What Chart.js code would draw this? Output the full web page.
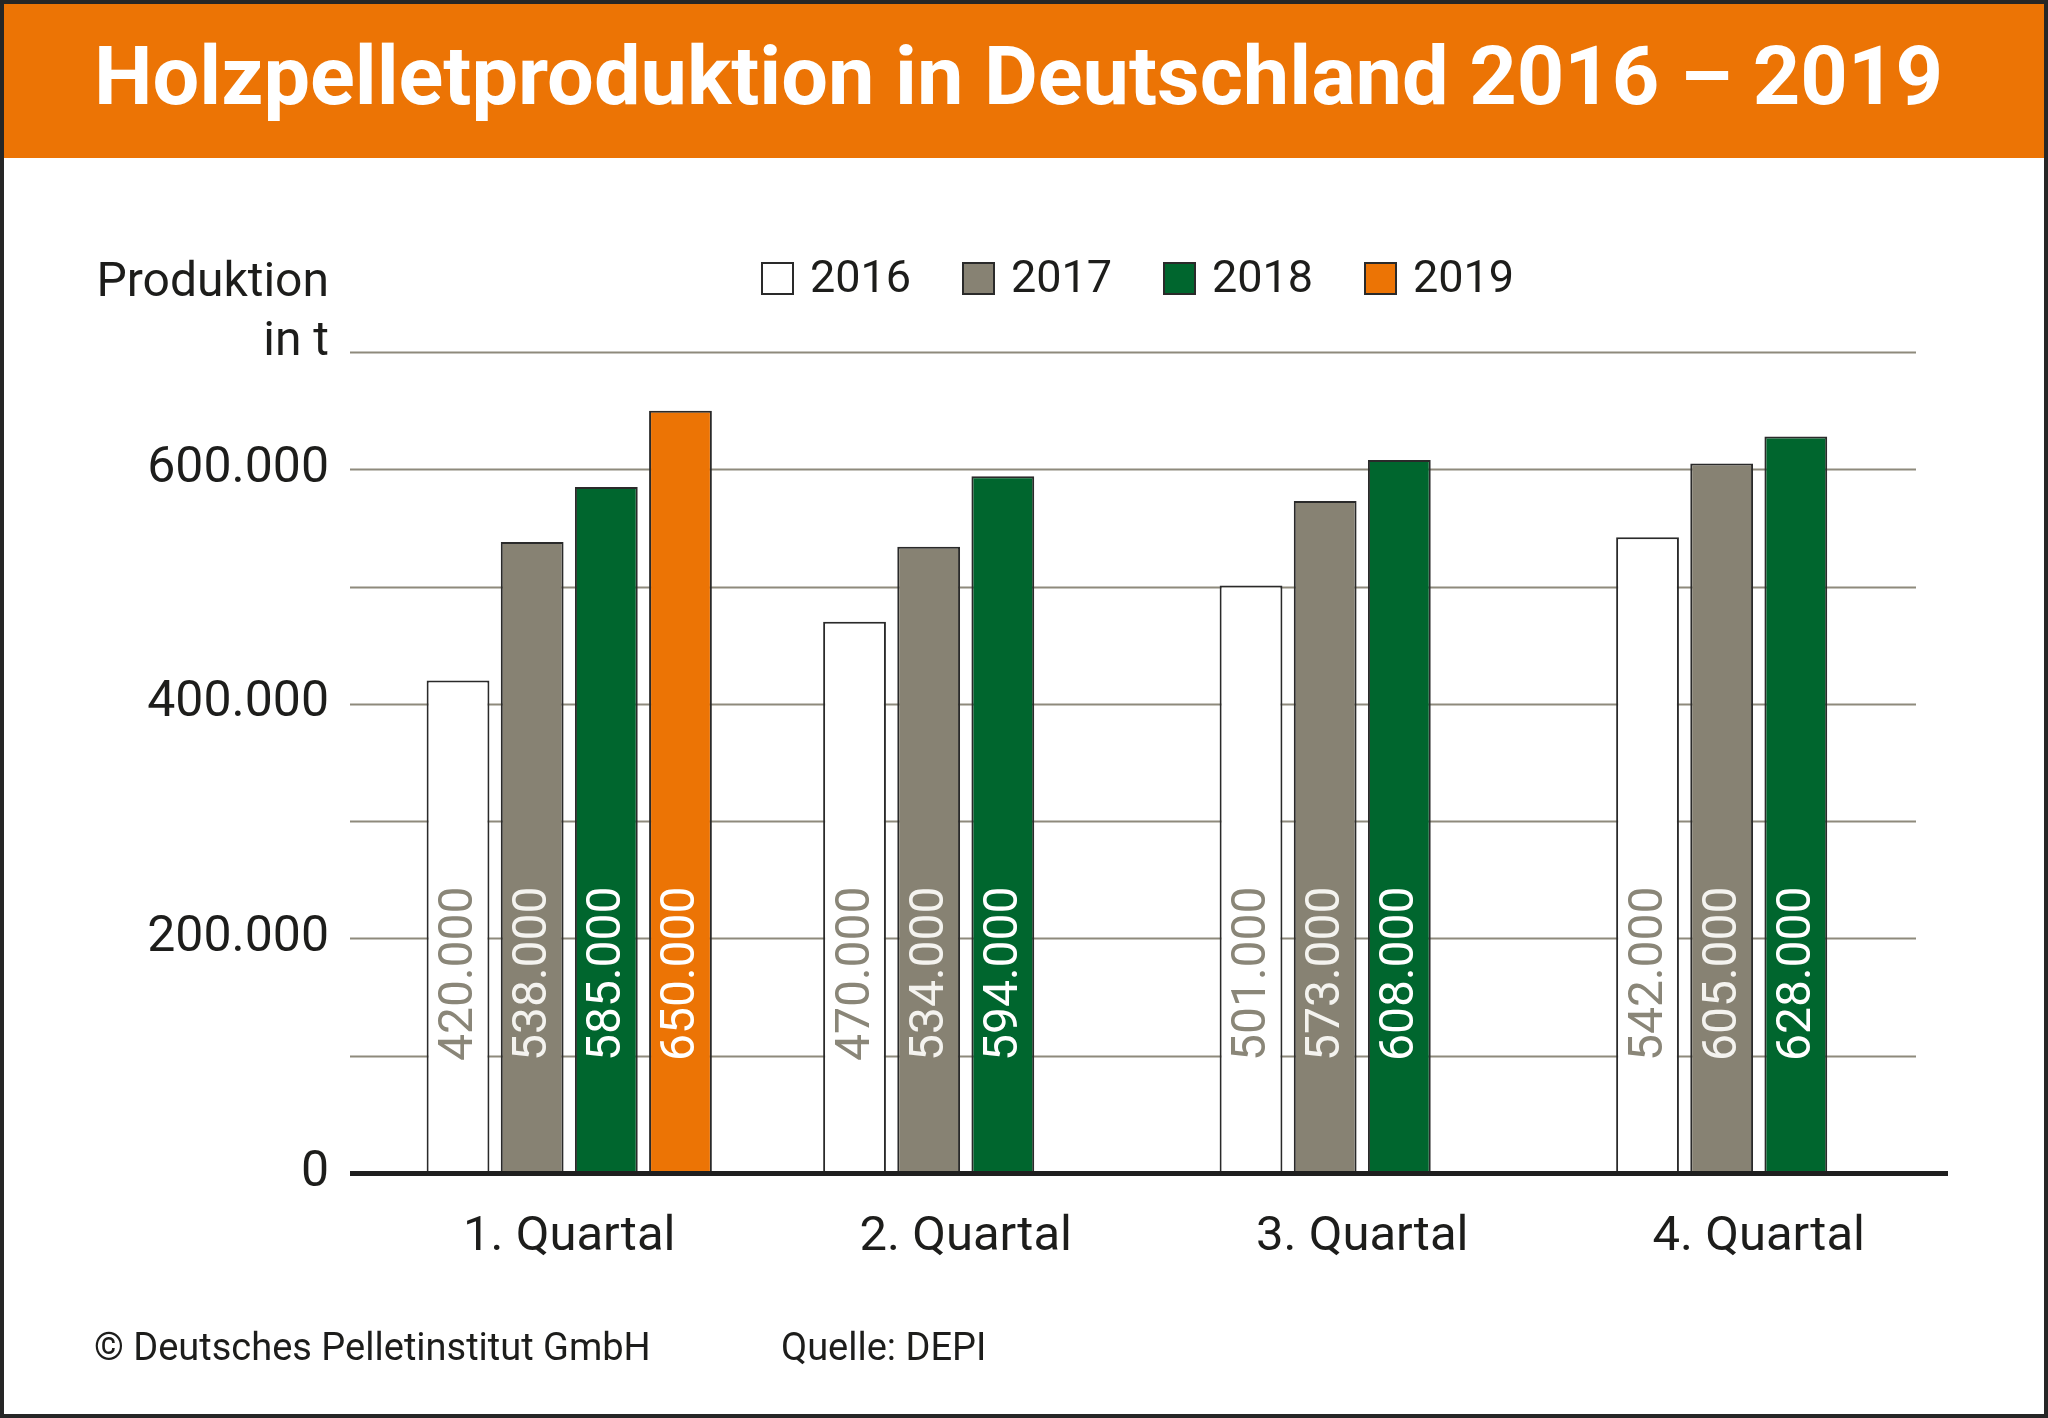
<!DOCTYPE html>
<html lang="de">
<head>
<meta charset="utf-8">
<title>Holzpelletproduktion in Deutschland 2016 – 2019</title>
<script src="https://cdn.jsdelivr.net/npm/chart.js@4.4.1/dist/chart.umd.min.js"></script>
<style>
  html, body { margin: 0; padding: 0; background: #fff; }
  #grafik { display: block; }
</style>
</head>
<body>
<canvas id="grafik" width="2048" height="1418"></canvas>
<script>
// Daten
const quartale = ['1. Quartal', '2. Quartal', '3. Quartal', '4. Quartal'];
const jahre = ['2016', '2017', '2018', '2019'];
const werte2016 = [420000, 470000, 501000, 542000];
const werte2017 = [538000, 534000, 573000, 605000];
const werte2018 = [585000, 594000, 608000, 628000];
const werte2019 = [650000, null, null, null];
const yBeschriftung = [0, 200000, 400000, 600000];

const titel = 'Holzpelletproduktion in Deutschland 2016 – 2019';
const achsenTitel = ['Produktion', 'in t'];
const copyright = '© Deutsches Pelletinstitut GmbH';
const quelle = 'Quelle: DEPI';

const farben = ['#ffffff', '#878273', '#00662e', '#ec7405'];
const textFarben = ['#8a8678', '#f4f3ef', '#ffffff', '#ffffff'];
const schrift = 'Roboto, "Open Sans", sans-serif';
const orange = '#ec7405';
const dunkel = '#1d1d1b';

function formatZahl(v) {
    return String(v).replace(/\B(?=(\d{3})+(?!\d))/g, '.');
}

// Hintergrund, Titelbalken, Achsentitel und Quelle
const rahmenPlugin = {
    id: 'rahmen',
    beforeDraw(chart) {
        const c = chart.ctx;
        c.save();
        c.fillStyle = '#ffffff';
        c.fillRect(0, 0, chart.width, chart.height);
        c.fillStyle = orange;
        c.fillRect(0, 0, chart.width, 158);

        // Titel etwas gestaucht, damit er die Breite trifft
        c.font = 'bold 82px ' + schrift;
        c.fillStyle = '#ffffff';
        c.textBaseline = 'alphabetic';
        const w = c.measureText(titel).width;
        c.translate(94, 104);
        c.scale(1849 / w, 1);
        c.fillText(titel, 0, 0);
        c.restore();

        c.save();
        c.fillStyle = dunkel;
        c.font = '48px ' + schrift;
        c.textAlign = 'right';
        c.fillText(achsenTitel[0], 329, 296);
        c.fillText(achsenTitel[1], 329, 355);
        c.textAlign = 'left';
        c.font = '38px ' + schrift;
        c.fillText(copyright, 94, 1360);
        c.fillText(quelle, 781, 1360);
        c.restore();
    },
    afterDraw(chart) {
        const c = chart.ctx;
        c.save();
        c.strokeStyle = '#262626';
        c.lineWidth = 4;
        c.strokeRect(2, 2, chart.width - 4, chart.height - 4);
        c.restore();
    }
};

// Gitterlinien (laufen links über die Achse hinaus)
const gitterPlugin = {
    id: 'gitter',
    beforeDatasetsDraw(chart) {
        const c = chart.ctx;
        const y = chart.scales.y;
        c.save();
        c.strokeStyle = '#8e8a7c';
        c.lineWidth = 2;
        for (let v = 100000; v <= 700000; v += 100000) {
            const py = Math.round(y.getPixelForValue(v)) + 0.5;
            c.beginPath();
            c.moveTo(350, py);
            c.lineTo(1916, py);
            c.stroke();
        }
        c.restore();
    }
};

// Nulllinie und senkrechte Werte in den Balken
const werteplugin = {
    id: 'werte',
    afterDatasetsDraw(chart) {
        const c = chart.ctx;
        const y0 = chart.scales.y.getPixelForValue(0);
        c.save();
        c.fillStyle = '#1f1f1f';
        c.fillRect(350, y0 - 2, 1598, 5);

        c.font = '48px ' + schrift;
        c.textAlign = 'left';
        c.textBaseline = 'middle';
        chart.data.datasets.forEach((ds, i) => {
            const meta = chart.getDatasetMeta(i);
            meta.data.forEach((bar, j) => {
                const wert = ds.data[j];
                if (wert === null) return;
                c.save();
                c.fillStyle = textFarben[i];
                c.translate(bar.x, y0 - 112);
                c.rotate(-Math.PI / 2);
                c.fillText(formatZahl(wert), 0, 2);
                c.restore();
            });
        });
        c.restore();
    }
};

// Legende oben
const legendePlugin = {
    id: 'legende',
    afterDraw(chart) {
        const c = chart.ctx;
        c.save();
        c.font = '45px ' + schrift;
        c.textBaseline = 'middle';
        c.textAlign = 'left';
        chart.data.datasets.forEach((ds, i) => {
            const x = 762 + i * 201;
            c.fillStyle = ds.backgroundColor;
            c.fillRect(x, 263, 31, 31);
            c.strokeStyle = '#2a2a2a';
            c.lineWidth = 2;
            c.strokeRect(x, 263, 31, 31);
            c.fillStyle = dunkel;
            c.fillText(ds.label, x + 48, 281);
        });
        c.restore();
    }
};

const reihen = [werte2016, werte2017, werte2018, werte2019];

new Chart(document.getElementById('grafik'), {
    type: 'bar',
    data: {
        labels: quartale,
        datasets: reihen.map((werte, i) => ({
            label: jahre[i],
            data: werte,
            backgroundColor: farben[i],
            borderColor: '#2a2a2a',
            borderWidth: 2,
            categoryPercentage: 0.748,
            barPercentage: 0.847
        }))
    },
    options: {
        responsive: false,
        animation: false,
        devicePixelRatio: 1,
        layout: { padding: { top: 352, left: 0, right: 91, bottom: 145 } },
        plugins: {
            legend: { display: false },
            tooltip: { enabled: false }
        },
        scales: {
            x: {
                grid: { display: false, drawTicks: false },
                border: { display: false },
                ticks: { color: dunkel, font: { family: schrift, size: 49 }, padding: 35 },
                afterFit(scale) { scale.height = 100; }
            },
            y: {
                min: 0,
                max: 700000,
                grid: { display: false, drawTicks: false },
                border: { display: false },
                ticks: {
                    stepSize: 100000,
                    color: dunkel,
                    font: { family: schrift, size: 50 },
                    padding: 42,
                    callback: (v) => yBeschriftung.includes(v) ? formatZahl(v) : ''
                },
                afterFit(scale) { scale.width = 371; }
            }
        }
    },
    plugins: [rahmenPlugin, gitterPlugin, werteplugin, legendePlugin]
});
</script>
</body>
</html>
